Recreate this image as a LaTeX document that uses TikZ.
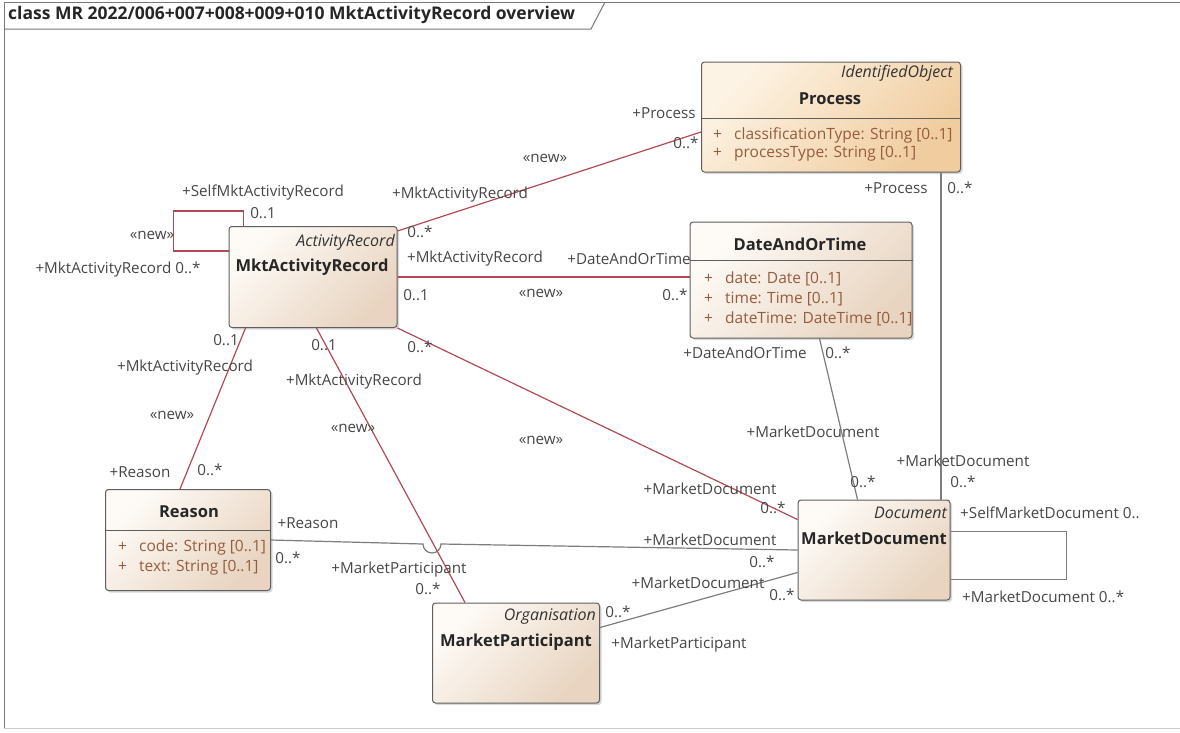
\documentclass[tikz,border=0pt]{standalone}
\usepackage{fontspec}
\setmainfont{Open Sans}
\usetikzlibrary{shadows, positioning, calc}

\definecolor{redassoc}{RGB}{178,74,84}
\definecolor{grayassoc}{RGB}{125,125,125}
\definecolor{boxedge}{RGB}{95,95,95}
\definecolor{boxlight}{RGB}{254,251,247}
\definecolor{boxdark}{RGB}{232,212,192}
\definecolor{proclight}{RGB}{253,243,228}
\definecolor{procdark}{RGB}{240,204,158}
\definecolor{attrtext}{RGB}{150,92,62}
\definecolor{lbltext}{RGB}{70,70,70}
\definecolor{framegray}{RGB}{120,120,120}

\newcommand{\attrplus}{\makebox[21pt][l]{+}}

\begin{document}
\begin{tikzpicture}[x=1pt, y=-1pt,
        % --- Styles ---
        classbox/.style={rectangle, draw=boxedge, line width=1pt, rounded corners=3pt, left color=boxlight, right color=boxdark, shading angle=45, drop shadow={shadow xshift=2pt, shadow yshift=-2pt, opacity=0.3}, inner sep=0pt},
        procbox/.style={classbox, left color=proclight, right color=procdark, shading angle=45},
        stereo/.style={font=\fontsize{16}{18}\itshape, text=black!80, inner sep=0pt},
        cname/.style={font=\fontsize{16.5}{18}\bfseries, text=black!85, inner sep=0pt},
        attr/.style={font=\fontsize{15.5}{17}\selectfont, text=attrtext, inner sep=0pt, anchor=west},
        sepline/.style={draw=boxedge, line width=1pt},
        % --- Line Styles ---
        redline/.style={draw=redassoc, line width=1.2pt},
        grayline/.style={draw=grayassoc, line width=1.2pt},
        lbl/.style={font=\fontsize{15.2}{17}\selectfont, text=lbltext, inner sep=0pt}
    ]

        \useasboundingbox (0,0) rectangle (1180,732);

        % --- Frame and title tab ---
        \draw[framegray, line width=1pt] (1180,2) -- (4,2) -- (4,728);
        \draw[framegray!40, line width=1pt] (4,728) -- (1180,728);
        \node[font=\fontsize{17.5}{19}\bfseries, text=black!85, inner sep=0pt, anchor=west] (title) at (8,15) {class MR 2022/006+007+008+009+010 MktActivityRecord overview};
        \draw[framegray, line width=1pt] (4,29) -- (591,29) -- (605,2);

        % --- Classes ---
        \node[procbox, minimum width=259pt, minimum height=110pt] (proc) at (831,117) {};
        \node[stereo, anchor=east] (procst) at (953,73) {IdentifiedObject};
        \node[cname] (procname) at (830,99) {Process};
        \draw[sepline] ([yshift=-57pt]proc.north west) -- ([yshift=-57pt]proc.north east);
        \node[attr] (procat1) at (713,135) {\attrplus classificationType: String [0..1]};
        \node[attr] (procat2) at (713,154) {\attrplus processType: String [0..1]};

        \node[classbox, minimum width=168pt, minimum height=101pt] (mar) at (313,277) {};
        \node[stereo, anchor=east] (marst) at (395,242) {ActivityRecord};
        \node[cname] (marname) at (312,267) {MktActivityRecord};

        \node[classbox, minimum width=222pt, minimum height=116pt] (dat) at (801,280) {};
        \node[cname] (datname) at (800,244) {DateAndOrTime};
        \draw[sepline] ([yshift=-39pt]dat.north west) -- ([yshift=-39pt]dat.north east);
        \node[attr] (datat1) at (704,279) {\attrplus date: Date [0..1]};
        \node[attr] (datat2) at (704,299) {\attrplus time: Time [0..1]};
        \node[attr] (datat3) at (704,319) {\attrplus dateTime: DateTime [0..1]};

        \node[classbox, minimum width=165pt, minimum height=101pt] (reason) at (188,540) {};
        \node[cname] (reasonname) at (189,512) {Reason};
        \draw[sepline] ([yshift=-41pt]reason.north west) -- ([yshift=-41pt]reason.north east);
        \node[attr] (reasonat1) at (118,547) {\attrplus code: String [0..1]};
        \node[attr] (reasonat2) at (118,568) {\attrplus text: String [0..1]};

        \node[classbox, minimum width=152pt, minimum height=100pt] (md) at (874,550) {};
        \node[stereo, anchor=east] (mdst) at (947,513) {Document};
        \node[cname] (mdname) at (874,538) {MarketDocument};

        \node[classbox, minimum width=167pt, minimum height=100pt] (mp) at (516,653) {};
        \node[stereo, anchor=east] (mpst) at (596,617) {Organisation};
        \node[cname] (mpname) at (516,642) {MarketParticipant};

        % --- Associations ---
        \draw[redline] ([yshift=-5pt]mar.north east) -- ([yshift=-15pt]proc.west);
        \draw[redline] ([xshift=15pt]mar.north west) -- ++(0,-15) -- ++(-70,0) -- ++(0,40) -- ([yshift=-25pt]mar.north west);
        \draw[redline] (mar.east) -- (mar.east -| dat.west);
        \draw[redline] ([xshift=17pt]mar.south west) -- ([xshift=75pt]reason.north west);
        \draw[redline] ([xshift=88pt]mar.south west) -- ([xshift=33pt]mp.north west);
        \draw[redline] (mar.south east) -- ([yshift=-20pt]md.north west);
        \draw[grayline] ([xshift=130pt]dat.south west) -- ([xshift=60pt]md.north west);
        \draw[grayline] ([xshift=-20pt]proc.south east) -- ([xshift=-20pt]proc.south east |- md.north);
        \coordinate (hop) at (432,544);
        \draw[grayline] (reason.east) -- ([xshift=-9pt]hop) arc[start angle=180, end angle=360, radius=9pt] -- (md.west);
        \draw[grayline] ([yshift=-25pt]mp.north east) -- ([yshift=-73pt]md.north west);
        \draw[grayline] ([yshift=-32pt]md.north east) -- ++(116,0) -- ++(0,48) -- ([yshift=-80pt]md.north east);

        % --- Role labels ---
        \node[lbl] (l1) at (664,113) {+Process};
        \node[lbl] (l2) at (686,143) {0..*};
        \node[lbl] (l3) at (545,158) {«new»};
        \node[lbl] (l4) at (460,195) {+MktActivityRecord};
        \node[lbl] (l5) at (420,232) {0..*};

        \node[lbl] (l6) at (263,193) {+SelfMktActivityRecord};
        \node[lbl] (l7) at (263,213) {0..1};
        \node[lbl] (l8) at (152,235) {«new»};
        \node[lbl] (l9) at (118,270) {+MktActivityRecord 0..*};

        \node[lbl] (l10) at (475,259) {+MktActivityRecord};
        \node[lbl] (l11) at (629,259) {+DateAndOrTime};
        \node[lbl] (l12) at (416,295) {0..1};
        \node[lbl] (l13) at (541,293) {«new»};
        \node[lbl] (l14) at (675,295) {0..*};

        \node[lbl] (l15) at (226,340) {0..1};
        \node[lbl] (l16) at (185,368) {+MktActivityRecord};
        \node[lbl] (l17) at (172,415) {«new»};
        \node[lbl] (l18) at (140,472) {+Reason};
        \node[lbl] (l19) at (210,470) {0..*};

        \node[lbl] (l20) at (324,345) {0..1};
        \node[lbl] (l21) at (354,382) {+MktActivityRecord};
        \node[lbl] (l22) at (353,428) {«new»};
        \node[lbl] (l23) at (399,570) {+MarketParticipant};
        \node[lbl] (l24) at (428,589) {0..*};

        \node[lbl] (l25) at (420,347) {0..*};
        \node[lbl] (l26) at (541,440) {«new»};
        \node[lbl] (l27) at (710,489) {+MarketDocument};
        \node[lbl] (l28) at (773,508) {0..*};

        \node[lbl] (l29) at (745,353) {+DateAndOrTime};
        \node[lbl] (l30) at (838,353) {0..*};
        \node[lbl] (l31) at (813,432) {+MarketDocument};
        \node[lbl] (l32) at (863,482) {0..*};

        \node[lbl] (l33) at (896,188) {+Process};
        \node[lbl] (l34) at (960,188) {0..*};
        \node[lbl] (l35) at (963,461) {+MarketDocument};
        \node[lbl] (l36) at (963,482) {0..*};

        \node[lbl] (l37) at (308,523) {+Reason};
        \node[lbl] (l38) at (288,558) {0..*};
        \node[lbl] (l39) at (710,540) {+MarketDocument};
        \node[lbl] (l40) at (762,562) {0..*};

        \node[lbl] (l41) at (618,612) {0..*};
        \node[lbl] (l42) at (679,645) {+MarketParticipant};
        \node[lbl] (l43) at (698,583) {+MarketDocument};
        \node[lbl] (l44) at (782,595) {0..*};

        \node[lbl, anchor=west] (l45) at (960,513) {+SelfMarketDocument 0..};
        \node[lbl, anchor=west] (l46) at (962,597) {+MarketDocument 0..*};

    \end{tikzpicture}
\end{document}
